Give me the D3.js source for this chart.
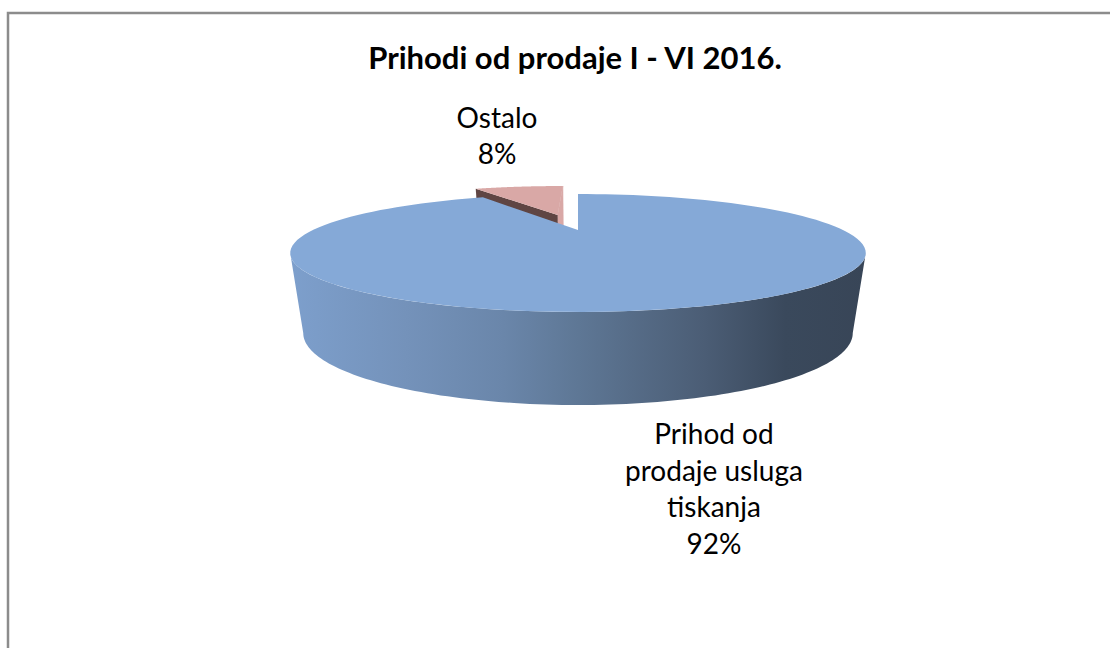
<!DOCTYPE html>
<html>
<head>
<meta charset="utf-8">
<script src="https://cdn.jsdelivr.net/npm/d3@7"></script>
<style>
  html, body { margin: 0; padding: 0; background: #fff; }
  text { font-family: Lato, "Open Sans", sans-serif; fill: #000; }
</style>
</head>
<body>
<svg id="chart" width="1110" height="648"></svg>
<script>
const titleText = "Prihodi od prodaje I - VI 2016."
const categories = ["Prihod od prodaje usluga tiskanja", "Ostalo"]
const shares = [92, 8]
const labelLines = [["Prihod od", "prodaje usluga", "tiskanja", "92%"], ["Ostalo", "8%"]]

let svg = d3.select("#chart")

//frame of the chart, only top and left are in the picture
svg.append("path")
	.attr("d", "M8,648V13H1110")
	.attr("fill", "none")
	.attr("stroke", "#8c8c8c")
	.attr("stroke-width", 2.5)

//perspective used for the two rims of the pie
let tilt = 0.39
let topRim = {cx: 578, cy: 230, r: 265, a: 50}
let bottomRim = {cx: 578, cy: 305, r: 253, a: 61}
let explode = 0.35

function project(rim, u, v) {
	let w = 1 - tilt * v
	return [rim.cx + rim.r * u / w, rim.cy + rim.a * v / w]
}

//angle 0 is up, angles go clockwise
function rimPoint(rim, angle, shift) {
	let u = Math.sin(angle) + (shift ? shift[0] : 0)
	let v = -Math.cos(angle) + (shift ? shift[1] : 0)
	return project(rim, u, v)
}

function arcPoints(rim, from, to, shift) {
	let n = 120
	return d3.range(n + 1).map(i => rimPoint(rim, from + (to - from) * i / n, shift))
}

let line = d3.line()

let slices = d3.pie().sort(null)(shares)
let big = slices[0]
let small = slices[1]

//small slice is pulled out along its middle
let mid = (small.startAngle + small.endAngle) / 2
let shift = [explode * Math.sin(mid), -explode * Math.cos(mid)]
let smallTopApex = project(topRim, shift[0], shift[1])
let smallBottomApex = project(bottomRim, shift[0], shift[1])

//right cut face of the small slice
svg.append("path")
	.attr("d", line([
		smallTopApex,
		rimPoint(topRim, small.endAngle, shift),
		rimPoint(bottomRim, small.endAngle, shift),
		smallBottomApex
	]) + "Z")
	.attr("fill", "#d9a8a6")
	.attr("stroke", "#d9a8a6")
	.attr("stroke-width", 0.6)

//left cut face of the small slice
svg.append("path")
	.attr("d", line([
		smallTopApex,
		rimPoint(topRim, small.startAngle, shift),
		rimPoint(bottomRim, small.startAngle, shift),
		smallBottomApex
	]) + "Z")
	.attr("fill", "#5f4543")

//top of the small slice
svg.append("path")
	.attr("d", line([smallTopApex].concat(arcPoints(topRim, small.startAngle, small.endAngle, shift))) + "Z")
	.attr("fill", "#d9a8a6")

//gradient of the side wall
let stops = [
	[0, "#7d9fcc"],
	[0.2, "#7492ba"],
	[0.37, "#6a86aa"],
	[0.5, "#5e7795"],
	[0.72, "#4b5d75"],
	[0.86, "#3a495c"],
	[1, "#384557"]
]
let gradient = svg.append("defs").append("linearGradient")
	.attr("id", "wall")
	.attr("gradientUnits", "userSpaceOnUse")
	.attr("x1", 291).attr("x2", 866)
	.attr("y1", 0).attr("y2", 0)

gradient.selectAll("stop")
	.data(stops)
	.enter()
	.append("stop")
	.attr("offset", d => d[0])
	.attr("stop-color", d => d[1])

//side wall runs from the widest point on the right round the front to the left
let wideRight = Math.PI - Math.asin(Math.sqrt(1 - tilt * tilt))
let wideLeft = 2 * Math.PI - wideRight
let wallPoints = arcPoints(topRim, wideRight, wideLeft)
	.concat(arcPoints(bottomRim, wideLeft, wideRight))

svg.append("path")
	.attr("d", line(wallPoints) + "Z")
	.attr("fill", "url(#wall)")

//top of the big slice
svg.append("path")
	.attr("d", line([project(topRim, 0, 0)].concat(arcPoints(topRim, big.startAngle, big.endAngle))) + "Z")
	.attr("fill", "#85a9d7")

//title
svg.append("text")
	.attr("x", 575)
	.attr("y", 69)
	.attr("text-anchor", "middle")
	.attr("font-size", 31)
	.attr("font-weight", "bold")
	.text(titleText)

//slice labels
let labelPos = [{x: 714, y: 444, step: 36.7}, {x: 497, y: 128, step: 36}]
svg.selectAll(".label")
	.data(categories)
	.enter()
	.append("text")
	.attr("class", "label")
	.attr("text-anchor", "middle")
	.attr("font-size", 28)
	.each(function(d, i) {
		d3.select(this).selectAll("tspan")
			.data(labelLines[i])
			.enter()
			.append("tspan")
			.attr("x", labelPos[i].x)
			.attr("y", (t, j) => labelPos[i].y + j * labelPos[i].step)
			.text(t => t)
	})
</script>
</body>
</html>
